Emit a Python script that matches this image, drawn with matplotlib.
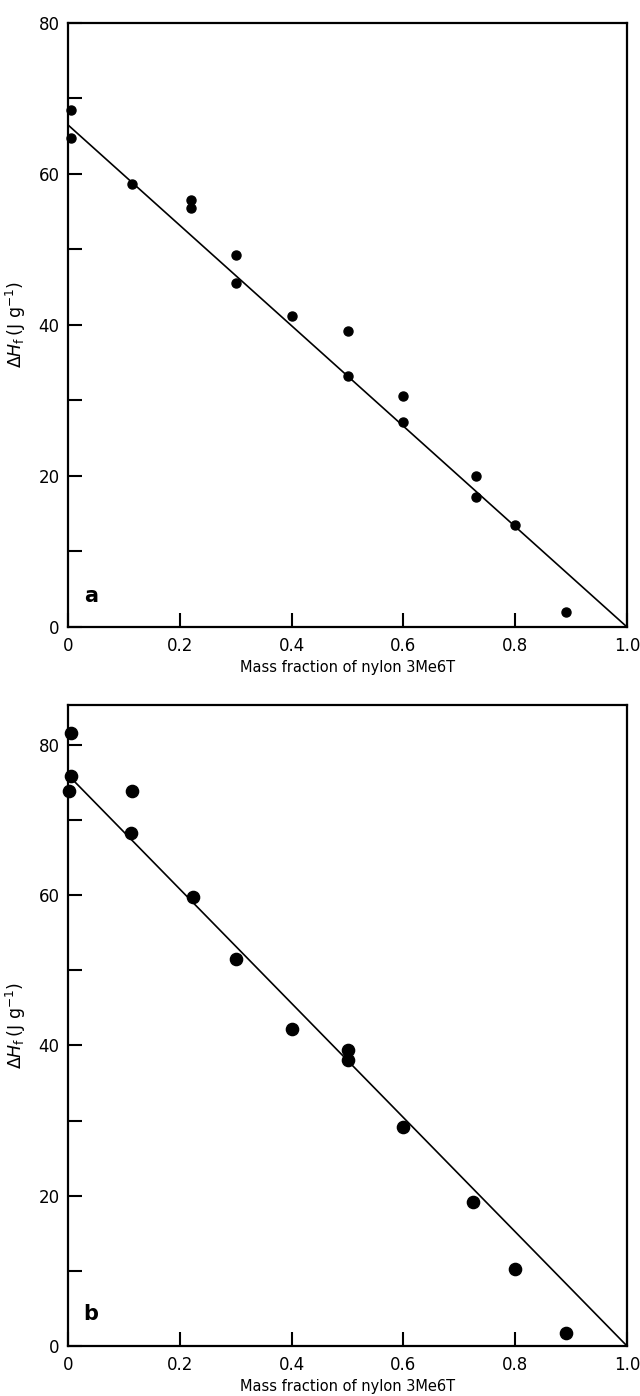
import matplotlib
matplotlib.use("Agg")
import matplotlib.pyplot as plt
from matplotlib.ticker import MultipleLocator
import numpy as np

# Panel a data
xa = [0.005, 0.005, 0.115, 0.22, 0.22, 0.30, 0.30, 0.40, 0.50, 0.50, 0.60, 0.60, 0.73, 0.73, 0.80, 0.89]
ya = [68.5, 64.8, 58.7, 56.6, 55.5, 49.3, 45.6, 41.2, 39.2, 33.3, 30.6, 27.1, 20.0, 17.2, 13.5, 2.0]
fit_a_x = [0.0, 1.0]
fit_a_y = [66.5, 0.0]

# Panel b data
xb = [0.005, 0.005, 0.002, 0.115, 0.113, 0.223, 0.30, 0.40, 0.50, 0.50, 0.60, 0.725, 0.80, 0.89]
yb = [81.6, 75.9, 73.8, 73.8, 68.3, 59.8, 51.5, 42.2, 39.4, 38.1, 29.2, 19.2, 10.3, 1.7]
fit_b_x = [0.0, 1.0]
fit_b_y = [76.0, 0.0]

xticks = [0, 0.2, 0.4, 0.6, 0.8, 1.0]
xticklabels = ['0', '0.2', '0.4', '0.6', '0.8', '1.0']
yticks = [0, 20, 40, 60, 80]

fig = plt.figure(figsize=(6.4, 13.96), dpi=100)
W, H = 640, 1396

def ax_at(l, t, r, b):
    return fig.add_axes([l / W, 1 - b / H, (r - l) / W, (b - t) / H])

ax1 = ax_at(68, 23, 627, 627)
ax2 = ax_at(68, 705, 627, 1346)

ylabel = r'$\Delta\mathit{H}_\mathrm{f}\,(\mathrm{J\ g^{-1}})$'

for ax, x, y, fx, fy, ytop, ms, letter in [
        (ax1, xa, ya, fit_a_x, fit_a_y, 80, 6.5, 'a'),
        (ax2, xb, yb, fit_b_x, fit_b_y, 85.3, 8.8, 'b')]:
    ax.plot(fx, fy, color='black', lw=1.2, zorder=2)
    ax.plot(x, y, 'o', color='black', ms=ms, zorder=3, clip_on=False)
    ax.set_xlim(0, 1.0)
    ax.set_ylim(0, ytop)
    ax.set_xticks(xticks)
    ax.set_xticklabels(xticklabels)
    ax.set_yticks(yticks)
    ax.yaxis.set_minor_locator(MultipleLocator(10))
    ax.tick_params(axis='both', which='both', direction='in', length=10, width=1.5,
                   labelsize=12, top=False, right=False)
    ax.tick_params(axis='y', pad=6)
    ax.tick_params(axis='x', pad=7)
    for s in ax.spines.values():
        s.set_linewidth(1.6)
    ax.set_xlabel('Mass fraction of nylon 3Me6T', fontsize=10.5, labelpad=4)
    ax.set_ylabel(ylabel, fontsize=12.5)
    ax.yaxis.set_label_coords(-0.072, 0.5)
    ax.text(0.028, 0.035, letter, transform=ax.transAxes, fontsize=15,
            fontweight='bold', ha='left', va='bottom')

fig.savefig('out.png', dpi=100)
